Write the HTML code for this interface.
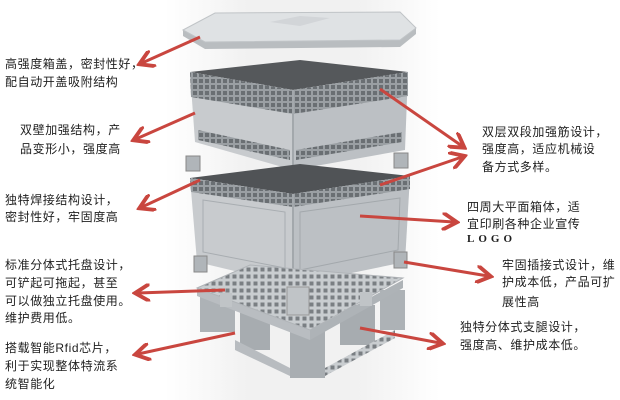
<!DOCTYPE html>
<html><head><meta charset="utf-8"><style>
html,body{margin:0;padding:0;background:#fff}
#c{position:relative;width:620px;height:400px;overflow:hidden;background:#fff;font-family:"Liberation Sans","Noto Sans CJK SC",sans-serif}
.t{position:absolute;font-size:12px;color:#1e1e1e;white-space:nowrap;letter-spacing:0.6px;line-height:14px}
svg{position:absolute;left:0;top:0}
</style></head><body><div id="c">
<svg width="620" height="400" viewBox="0 0 620 400">
<defs>
<linearGradient id="bg" x1="0" x2="1"><stop offset="0" stop-color="#fff"/><stop offset="0.3" stop-color="#f1f1f1"/><stop offset="0.7" stop-color="#f1f1f1"/><stop offset="1" stop-color="#fff"/></linearGradient>
<pattern id="rib" width="6" height="6" patternUnits="userSpaceOnUse"><rect width="6" height="6" fill="#9a9fa3"/><rect x="1" y="1" width="4" height="4" fill="#6a6f73"/></pattern>
<pattern id="grid" width="7" height="7" patternUnits="userSpaceOnUse"><rect width="7" height="7" fill="#c9cdd0"/><rect x="1.5" y="1.5" width="4" height="4" fill="#7a7f83"/></pattern>
<marker id="ah" markerWidth="6" markerHeight="6" refX="4" refY="3" orient="auto" markerUnits="strokeWidth"><path d="M0,0 L5,3 L0,6" fill="none" stroke="#c9463f" stroke-width="1.3"/></marker>
</defs>
<rect x="165" y="0" width="275" height="400" fill="url(#bg)"/>
<!-- lid -->
<polygon points="183,30 205,42 400,40 416,28 416,34 400,47 205,49 183,36" fill="#b9bdc0"/>
<polygon points="183,30 215,13 400,12 416,28 400,40 205,42" fill="#dfe2e4" stroke="#c0c4c7"/>
<polygon points="270,22 300,16 330,18 300,26" fill="#d2d5d8"/>
<!-- upper box -->
<polygon points="190,72 300,60 408,72 293,90" fill="#55585b"/>
<polygon points="190,72 293,90 293,170 195,142" fill="#c8cbce"/>
<polygon points="293,90 408,72 405,150 293,170" fill="#bcc0c4"/>
<polygon points="190,72 293,90 293,114 191,97" fill="url(#rib)"/>
<polygon points="293,90 408,72 408,96 293,114" fill="url(#rib)"/>
<polygon points="198,130 290,150 290,160 198,140" fill="url(#rib)"/>
<polygon points="296,150 402,132 402,142 296,160" fill="url(#rib)"/>
<line x1="293" y1="90" x2="293" y2="170" stroke="#a3a8ac" stroke-width="2"/>
<!-- connectors -->
<rect x="186" y="156" width="14" height="15" fill="#b0b5b9" stroke="#888"/>
<rect x="394" y="153" width="14" height="15" fill="#b0b5b9" stroke="#888"/>
<rect x="288" y="183" width="20" height="12" fill="#c0c4c7" stroke="#888"/>
<!-- lower box -->
<polygon points="190,178 300,164 410,176 293,194" fill="#505356"/>
<polygon points="190,178 293,194 293,285 197,262" fill="#c8cbce"/>
<polygon points="293,194 410,176 405,262 293,285" fill="#bcc0c4"/>
<polygon points="190,178 293,194 293,207 191,192" fill="url(#rib)"/>
<polygon points="293,194 410,176 410,189 293,207" fill="url(#rib)"/>
<polygon points="203,200 285,212 285,268 203,252" fill="none" stroke="#a8adb1"/>
<polygon points="300,212 400,198 398,250 300,270" fill="none" stroke="#a3a8ac"/>
<line x1="293" y1="194" x2="293" y2="285" stroke="#a3a8ac" stroke-width="2"/>
<rect x="194" y="256" width="13" height="16" fill="#b0b5b9" stroke="#888"/>
<rect x="394" y="252" width="13" height="16" fill="#b0b5b9" stroke="#888"/>
<!-- pallet -->
<rect x="200" y="292" width="35" height="40" fill="#adb2b6"/>
<rect x="240" y="305" width="30" height="45" fill="#a7acb0"/>
<rect x="380" y="290" width="25" height="40" fill="#adb2b6"/>
<rect x="340" y="305" width="35" height="40" fill="#a7acb0"/>
<rect x="290" y="328" width="35" height="50" fill="#a9aeb2"/>
<polygon points="235,340 290,368 290,376 235,350" fill="#b8bcc0"/>
<polygon points="325,368 395,330 395,338 325,376" fill="url(#grid)"/>
<polygon points="197,288 310,330 310,340 197,296" fill="#b9bdc1"/>
<polygon points="310,330 403,280 403,288 310,340" fill="#aeb3b7"/>
<polygon points="197,288 250,265 403,278 310,330" fill="url(#grid)" stroke="#b0b4b8"/>
<rect x="287" y="287" width="22" height="28" fill="#c0c4c7" stroke="#999"/>
<rect x="220" y="293" width="12" height="14" fill="#c0c4c7"/>
<rect x="360" y="292" width="12" height="14" fill="#c0c4c7"/>
<!-- arrows -->
<g stroke="#c9463f" stroke-width="3" fill="none" marker-end="url(#ah)">
<line x1="200" y1="37" x2="142" y2="63"/>
<line x1="195" y1="113" x2="136" y2="139"/>
<line x1="200" y1="180" x2="142" y2="207"/>
<line x1="225" y1="290" x2="138" y2="293"/>
<line x1="235" y1="333" x2="138" y2="354"/>
<line x1="380" y1="89" x2="462" y2="146"/>
<line x1="380" y1="185" x2="462" y2="157"/>
<line x1="360" y1="216" x2="454" y2="222"/>
<line x1="404" y1="262" x2="488" y2="276"/>
<line x1="360" y1="328" x2="440" y2="343"/>
</g>
</svg>
<div class="t" style="left:5px;top:57px">高强度箱盖，密封性好，</div>
<div class="t" style="left:5px;top:75px">配自动开盖吸附结构</div>
<div class="t" style="left:20px;top:123px">双壁加强结构，产</div>
<div class="t" style="left:20px;top:142px">品变形小，强度高</div>
<div class="t" style="left:5px;top:193px">独特焊接结构设计，</div>
<div class="t" style="left:5px;top:210px">密封性好，牢固度高</div>
<div class="t" style="left:5px;top:258px">标准分体式托盘设计，</div>
<div class="t" style="left:5px;top:276px">可铲起可拖起，甚至</div>
<div class="t" style="left:5px;top:294px">可以做独立托盘使用。</div>
<div class="t" style="left:5px;top:311px">维护费用低。</div>
<div class="t" style="left:5px;top:341px">搭载智能Rfid芯片，</div>
<div class="t" style="left:5px;top:359px">利于实现整体特流系</div>
<div class="t" style="left:5px;top:377px">统智能化</div>
<div class="t" style="left:482px;top:125px">双层双段加强筋设计，</div>
<div class="t" style="left:482px;top:142px">强度高，适应机械设</div>
<div class="t" style="left:482px;top:160px">备方式多样。</div>
<div class="t" style="left:467px;top:200px">四周大平面箱体，适</div>
<div class="t" style="left:467px;top:217px">宜印刷各种企业宣传</div>
<div class="t" style="left:467px;top:232px;font-family:'Liberation Serif',serif;font-weight:bold;font-size:11px;letter-spacing:4px">LOGO</div>
<div class="t" style="left:502px;top:258px">牢固插接式设计，维</div>
<div class="t" style="left:502px;top:275px">护成本低，产品可扩</div>
<div class="t" style="left:502px;top:295px">展性高</div>
<div class="t" style="left:460px;top:320px">独特分体式支腿设计，</div>
<div class="t" style="left:460px;top:338px">强度高、维护成本低。</div>
</div></body></html>
